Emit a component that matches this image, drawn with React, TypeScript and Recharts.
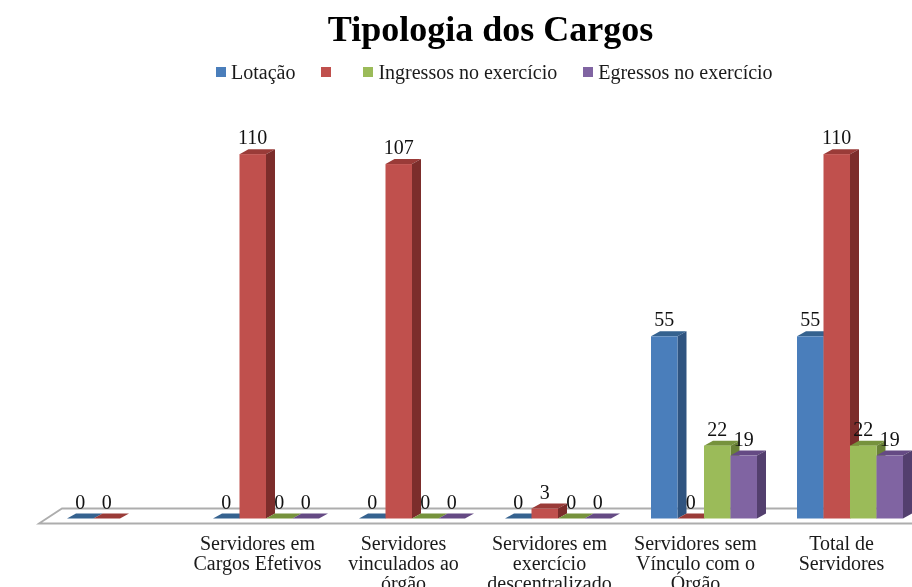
import React from "react";
import { BarChart, Bar, XAxis, YAxis, Legend, LabelList, Customized, usePlotArea } from "recharts";

const categories = [
  "",
  "Servidores em Cargos Efetivos",
  "Servidores vinculados ao órgão",
  "Servidores em exercício descentralizado",
  "Servidores sem Vínculo com o Órgão",
  "Total de Servidores",
];
const tickLines: Record<string, string[]> = {
  "": [],
  "Servidores em Cargos Efetivos": ["Servidores em", "Cargos Efetivos"],
  "Servidores vinculados ao órgão": ["Servidores", "vinculados ao", "órgão"],
  "Servidores em exercício descentralizado": ["Servidores em", "exercício", "descentralizado"],
  "Servidores sem Vínculo com o Órgão": ["Servidores sem", "Vínculo com o", "Órgão"],
  "Total de Servidores": ["Total de", "Servidores"],
};
const lotacao = [0, 0, 0, 0, 55, 55];
const semNome = [0, 110, 107, 3, 0, 110];
const ingressos = [null, 0, 0, 0, 22, 22];
const egressos = [null, 0, 0, 0, 19, 19];

const rows = categories.map((c, i) => ({
  name: c,
  lotacao: lotacao[i],
  semNome: semNome[i],
  ingressos: ingressos[i],
  egressos: egressos[i],
}));

const FONT = "'Liberation Serif', serif";
const DX = 9;
const DY = 5;

function bar3d(front: string, side: string, top: string, key: string) {
  return (p: any) => {
    if (p.payload[key] === null || p.payload[key] === undefined) return <g />;
    const { x, y, width: w, height: h } = p;
    return (
      <g>
        <polygon points={`${x},${y} ${x + DX},${y - DY} ${x + w + DX},${y - DY} ${x + w},${y}`} fill={top} />
        {h > 0 && (
          <>
            <polygon points={`${x + w},${y} ${x + w + DX},${y - DY} ${x + w + DX},${y + h - DY} ${x + w},${y + h}`} fill={side} />
            <rect x={x} y={y} width={w} height={h} fill={front} />
          </>
        )}
      </g>
    );
  };
}

const Floor = () => {
  const area = usePlotArea();
  if (!area) return null;
  const y = area.y + area.height;
  const left = area.x;
  const right = area.x + area.width + 40;
  return (
    <polygon
      points={`${left - 8},${y + 5} ${left + 15},${y - 10} ${right},${y - 10} ${right},${y + 5}`}
      fill="#fff"
      stroke="#ADADAD"
      strokeWidth={1.8}
    />
  );
};

const Tick = ({ x, y, payload }: any) => (
  <text x={x - 8.5} y={y} textAnchor="middle" fontFamily={FONT} fontSize={20} fill="#1a1a1a">
    {(tickLines[payload.value] ?? []).map((line, i) => (
      <tspan key={i} x={x - 8.5} y={y + 23 + i * 20}>
        {line}
      </tspan>
    ))}
  </text>
);

const legendMargins = [0, 26, 22, 26];

const LegendItems = ({ payload }: any) => (
  <div style={{ display: "flex", fontFamily: FONT, fontSize: 20, color: "#1a1a1a", lineHeight: "20px" }}>
    {(payload ?? []).map((e: any, i: number) => (
      <div key={i} style={{ display: "flex", alignItems: "center", marginLeft: legendMargins[i], whiteSpace: "pre" }}>
        <span style={{ width: 10, height: 10, background: e.color, marginRight: 5 }} />
        <span>{e.value}</span>
      </div>
    ))}
  </div>
);

export default function App() {
  return (
    <div
      style={{
        position: "absolute",
        left: 0,
        top: 0,
        width: 912,
        height: 587,
        overflow: "hidden",
        background: "#fff",
        filter: "blur(0.4px)",
      }}
    >
      <div
        style={{
          position: "absolute",
          top: 9,
          left: 0,
          width: 981,
          textAlign: "center",
          fontFamily: FONT,
          fontWeight: 700,
          fontSize: 36,
          lineHeight: "40px",
          color: "#000",
        }}
      >
        Tipologia dos Cargos
      </div>
      <BarChart
        width={960}
        height={640}
        data={rows}
        margin={{ top: 121, right: 37, bottom: 0, left: 47 }}
        barSize={26.5}
        barGap={0}
      >
        <XAxis dataKey="name" interval={0} axisLine={false} tickLine={false} height={121.5} tick={<Tick />} />
        <YAxis hide domain={[0, 120]} />
        <Legend
          verticalAlign="middle"
          itemSorter={null}
          wrapperStyle={{ top: 62, left: 216, width: 640 }}
          content={<LegendItems />}
        />
        <Customized component={<Floor />} />
        <Bar dataKey="lotacao" name="Lotação" fill="#4A7EBB" isAnimationActive={false} shape={bar3d("#4A7EBB", "#2F5480", "#35628F", "lotacao")}>
          <LabelList dataKey="lotacao" position="top" offset={10} fontFamily={FONT} fontSize={20} fill="#111" />
        </Bar>
        <Bar dataKey="semNome" name=" " fill="#C0504D" isAnimationActive={false} shape={bar3d("#C0504D", "#7C2D2B", "#9A3B38", "semNome")}>
          <LabelList dataKey="semNome" position="top" offset={10} fontFamily={FONT} fontSize={20} fill="#111" />
        </Bar>
        <Bar dataKey="ingressos" name="Ingressos no exercício" fill="#9BBB59" isAnimationActive={false} shape={bar3d("#9BBB59", "#6A8237", "#76923C", "ingressos")}>
          <LabelList dataKey="ingressos" position="top" offset={10} fontFamily={FONT} fontSize={20} fill="#111" />
        </Bar>
        <Bar dataKey="egressos" name="Egressos no exercício" fill="#8064A2" isAnimationActive={false} shape={bar3d("#8064A2", "#533F6E", "#654A84", "egressos")}>
          <LabelList dataKey="egressos" position="top" offset={10} fontFamily={FONT} fontSize={20} fill="#111" />
        </Bar>
      </BarChart>
    </div>
  );
}
